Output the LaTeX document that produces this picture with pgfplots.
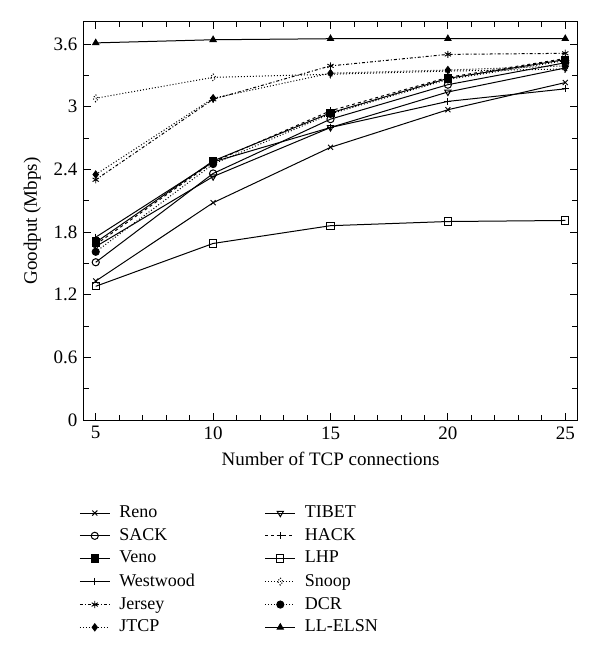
\documentclass[border=0pt]{standalone}
\usepackage{fontspec}
\setmainfont{Liberation Serif}
\usepackage{pgfplots}
\pgfplotsset{compat=1.18}
\usetikzlibrary{plotmarks}
\begin{document}
\fontsize{19}{23}\selectfont
\begin{tikzpicture}
\useasboundingbox (-84pt,-247pt) rectangle (516pt,420pt);
\begin{axis}[
  at={(0pt,0pt)}, anchor=south west,
  scale only axis, width=493pt, height=398pt,
  xmin=4.5, xmax=25.5, ymin=0, ymax=3.81,
  xtick={5,10,15,20,25}, minor xtick={6,7,8,9,11,12,13,14,16,17,18,19,21,22,23,24},
  ytick={0,0.6,1.2,1.8,2.4,3,3.6}, minor ytick={0.3,0.9,1.5,2.1,2.7,3.3},
  tick align=inside, tick pos=both,
  major tick length=7pt, minor tick length=5pt,
  every tick/.style={black, line width=0.8pt},
  axis line style={line width=1pt},
  /pgf/number format/assume math mode=true,
  ticklabel style={font=\fontsize{19}{23}\selectfont},
  label style={font=\fontsize{19}{23}\selectfont},
  xlabel={Number of TCP connections},
  ylabel={Goodput (Mbps)},
  every axis plot/.append style={black, line width=1pt, mark size=3.6pt, mark options={solid, line width=0.9pt}},
  legend columns=2,
  legend cell align=left,
  legend style={at={(-0.01,-0.21)}, anchor=north west, draw=none, fill=none, inner sep=0pt,
    font=\fontsize{18}{22}\selectfont, row sep=4pt,
    /tikz/every odd column/.append style={column sep=7pt},
    /tikz/every even column/.append style={column sep=68pt}},
  legend image code/.code={\draw[mark repeat=2, mark phase=2, #1] plot coordinates {(0pt,0pt) (15pt,0pt) (30pt,0pt)};},
]
\addplot[solid, mark=x] coordinates {(5,1.33) (10,2.08) (15,2.61) (20,2.97) (25,3.23)};
\addlegendentry{Reno}
\addplot[solid, mark=triangle, mark options={rotate=180, fill=white}] coordinates {(5,1.66) (10,2.33) (15,2.80) (20,3.14) (25,3.37)};
\addlegendentry{TIBET}
\addplot[solid, mark=o, mark options={fill=white}] coordinates {(5,1.51) (10,2.36) (15,2.88) (20,3.21) (25,3.42)};
\addlegendentry{SACK}
\addplot[dashed, mark=+] coordinates {(5,1.68) (10,2.47) (15,2.96) (20,3.28) (25,3.46)};
\addlegendentry{HACK}
\addplot[solid, mark=square*] coordinates {(5,1.70) (10,2.48) (15,2.94) (20,3.27) (25,3.45)};
\addlegendentry{Veno}
\addplot[solid, mark=square, mark options={fill=white}] coordinates {(5,1.28) (10,1.69) (15,1.86) (20,1.90) (25,1.91)};
\addlegendentry{LHP}
\addplot[solid, mark=+] coordinates {(5,1.75) (10,2.47) (15,2.80) (20,3.05) (25,3.17)};
\addlegendentry{Westwood}
\addplot[dotted, mark=diamond, mark options={fill=white}] coordinates {(5,3.08) (10,3.28) (15,3.31) (20,3.34) (25,3.36)};
\addlegendentry{Snoop}
\addplot[dash dot, mark=asterisk] coordinates {(5,2.30) (10,3.07) (15,3.39) (20,3.50) (25,3.51)};
\addlegendentry{Jersey}
\addplot[dotted, mark=*] coordinates {(5,1.61) (10,2.45) (15,2.93) (20,3.26) (25,3.44)};
\addlegendentry{DCR}
\addplot[dotted, mark=diamond*] coordinates {(5,2.35) (10,3.08) (15,3.32) (20,3.35) (25,3.39)};
\addlegendentry{JTCP}
\addplot[solid, mark=triangle*] coordinates {(5,3.61) (10,3.64) (15,3.65) (20,3.65) (25,3.65)};
\addlegendentry{LL-ELSN}
\end{axis}
\end{tikzpicture}
\end{document}
